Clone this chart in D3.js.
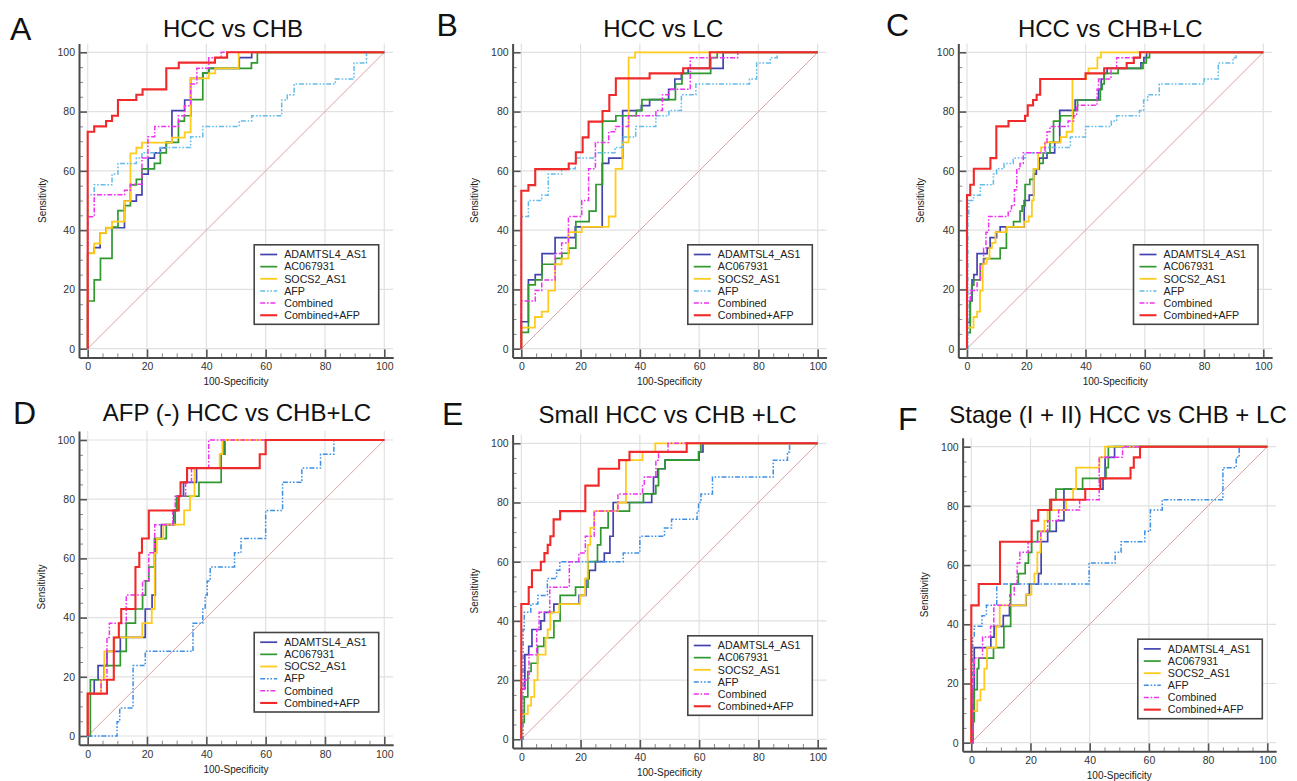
<!DOCTYPE html>
<html><head><meta charset="utf-8">
<script src="https://cdn.jsdelivr.net/npm/d3@7"></script>
<style>html,body{margin:0;padding:0;background:#fff;}svg{display:block;font-family:"Liberation Sans",Arial,sans-serif;}</style>
</head><body><svg id="chart" width="1297" height="781"></svg>
<script>
// ---------------- data ----------------
const seriesNames = ["ADAMTSL4_AS1","AC067931","SOCS2_AS1","AFP","Combined","Combined+AFP"];
const panelLetters = ["A","B","C","D","E","F"];
const panelTitles = ["HCC vs CHB","HCC vs LC","HCC vs CHB+LC","AFP (-) HCC vs CHB+LC","Small HCC vs CHB +LC","Stage (I + II) HCC vs CHB + LC"];
const axisTicks = [0,20,40,60,80,100];
const minorTicks = [5,10,15,25,30,35,45,50,55,65,70,75,85,90,95];
const xAxisTitle = "100-Specificity";
const yAxisTitle = "Sensitivity";

// each point: [100-Specificity, Sensitivity] where the ROC step rises to that sensitivity
const A_ADAMTSL4 = [[0,32.2],[2.2,34.1],[4.2,39.1],[6.2,40.8],[12.4,49.8],[16.4,51.9],[18.3,58.9],[20.4,64.3],[22.5,66.1],[24.5,67.8],[26.5,69.6],[28.4,80.3],[32.7,83.9],[34.7,91.2],[38.8,93],[40.8,94.6],[51.1,98.2],[55.3,100]];
const A_AC067931 = [[0,16.1],[2.2,23.2],[4.3,30.5],[8.2,41],[10.2,46.6],[12.4,48.3],[14.4,55.3],[16.4,57.1],[18.3,60.7],[22.5,62.5],[24.5,66.1],[26.5,69.6],[30.6,76.8],[32.6,78.6],[34.8,84],[38.8,93],[40.8,94.6],[55.2,96.4],[57.2,100]];
const A_SOCS2 = [[0,32.2],[2.2,35.5],[4.2,39.1],[6.2,40.8],[8.2,42.9],[12.4,49.8],[14.4,65.9],[16.4,67.8],[18.3,69.5],[28.4,71.2],[32.7,73],[34.7,91.2],[40.8,92.9],[43,94.6],[50.9,100]];
const A_AFP = [[0,51.9],[2.2,55.3],[8.2,58.9],[10.2,62.5],[16.4,64.3],[18.3,66.1],[24.5,67.9],[34.7,71.5],[38.8,75],[51.1,76.8],[55.3,78.6],[65.4,83.9],[67.3,85.7],[69.6,89.3],[83.5,91],[89.8,96.4],[94,100]];
const A_Combined = [[0,44.5],[2.2,51.9],[12.4,53.5],[14.4,55.5],[18.3,64.3],[20.3,71.5],[22.6,75],[30.6,78.6],[32.6,82],[34.7,89.3],[36.8,94.6],[40.8,98.2],[45,100]];
const A_CombinedAFP = [[0,73.2],[2.2,75],[6.2,76.8],[8.2,78.6],[10.2,83.9],[16.4,85.7],[18.5,87.5],[26.5,94.6],[30.7,96.5],[42.9,98.2],[47,100]];

const B_ADAMTSL4 = [[0,9.1],[2.4,23.2],[4.7,25],[7,32.1],[11.4,37.5],[18.2,41.1],[27.3,62.5],[29.5,64.3],[34.2,80.3],[40.5,82],[43.3,84],[49.7,87.5],[51.8,91],[54,92.9],[56.3,94.6],[68.1,100]];
const B_AC067931 = [[0,5.5],[2.4,21.5],[4.7,23.2],[7,28.5],[11.5,30.5],[13.7,32.2],[16,33.9],[18.4,42.9],[22.9,46.4],[25.2,55.4],[27.4,76.8],[31.9,78.6],[38.8,80.4],[40.7,84],[52,89.3],[54.2,92.9],[63.9,98.2],[66.1,100]];
const B_SOCS2 = [[0,7.1],[4.6,10.7],[6.9,12.5],[9.1,19.6],[11.4,28.5],[13.6,30.4],[15.9,39.3],[20.4,41.1],[29.5,44.6],[31.8,60.7],[34.1,69.6],[36.2,98.2],[38.4,100]];
const B_AFP = [[0,44.6],[2.4,50],[6.9,51.8],[9.1,58.9],[13.6,60.7],[18.2,64.3],[25,66.1],[31.6,67.9],[34.1,71.4],[38.6,75],[45.4,78.6],[49.8,80.4],[54,85.7],[58.9,89.3],[77,91],[79.4,96.4],[84,98.2],[86.3,100]];
const B_Combined = [[0,16.1],[4.7,19.6],[6.9,23.2],[11.4,32.1],[13.6,35.7],[15.9,44.6],[20.4,50],[22.7,60.7],[25,69.6],[29.5,73.2],[31.8,75],[36.2,78.6],[45.4,80.4],[47.6,85.7],[49.8,87.5],[57,98.2],[73,100]];
const B_CombinedAFP = [[0,53.3],[2.4,55.2],[4.7,60.6],[16,62.5],[18.4,66.3],[20.7,71.3],[22.7,76.6],[27.4,80.2],[29.7,85.6],[31.9,91.2],[43.3,92.9],[54.6,94.6],[63.6,100]];

const C_ADAMTSL4 = [[0,8.9],[1.1,16.1],[1.7,23.2],[2.3,25],[3.4,32.1],[6.8,33.9],[7.8,37.5],[10,39.3],[11.2,41.1],[19.3,50],[21,51.8],[22.5,58.9],[23.4,60.7],[24.4,64.3],[27,66.1],[29.6,69.6],[31.3,80.4],[36.5,83.9],[44.4,87.5],[45.3,91],[46.3,92.9],[47.3,94.6],[58.7,96.4],[59.7,98.2],[60.6,100]];
const C_AC067931 = [[0,5.4],[1.1,16.1],[1.6,21.4],[2.3,23.2],[4.5,28.6],[5.6,30.4],[11.2,33.9],[13.3,41.1],[15.7,42.9],[17.9,46.4],[18.6,48.2],[19.6,55.4],[21.2,57.1],[22.5,60.7],[24.2,62.5],[25.7,66.1],[28,69.6],[29.2,76.8],[31.5,78.6],[35.9,80.4],[37.3,83.9],[45,87.5],[45.6,89.3],[46.3,92.9],[51,94.6],[59.4,96.4],[60.5,98.2],[61.6,100]];
const C_SOCS2 = [[0,7.1],[2.2,10.7],[3.4,12.5],[4.4,19.6],[5.3,28.6],[6.6,30.4],[7.6,33.9],[8.4,35.7],[9.6,39.3],[13.5,41.1],[19.2,42.9],[20.8,44.6],[21.9,50],[22.5,60.7],[24,66.1],[25,67.9],[26.3,69.6],[31.6,71.4],[33.6,73.2],[35.6,91],[40.2,92.9],[41,94.6],[44,98.2],[45.2,100]];
const C_AFP = [[0.3,44.6],[0.6,50],[2.2,51.8],[4.5,55.3],[8.9,58.9],[10,60.7],[12.5,62.5],[15.6,64.3],[19.6,66.1],[26.6,67.9],[34.9,71.4],[40,75],[48.7,76.8],[50.5,78.6],[58.2,80.4],[59.6,83.9],[61,85.7],[64.9,89.3],[80,91],[84.8,96.4],[89.8,98.2],[90.8,100]];
const C_Combined = [[0,16.1],[1.1,19.6],[3.4,23.2],[4.5,28.6],[5.6,33.9],[6.4,39.3],[7.3,44.6],[13.9,46.4],[15,48.2],[16,53.6],[16.8,60.7],[17.9,62.5],[19,66.1],[26.3,69.6],[27,73.2],[28,75],[34.1,76.8],[36,78.6],[37,82.1],[43.9,87.5],[44.4,91],[48.6,94.6],[50.5,98.2],[58.5,100]];
const C_CombinedAFP = [[0,51.8],[1.1,55.3],[2.3,60.7],[7.9,64.3],[9.9,75],[14,76.8],[19.6,78.6],[20.5,82.1],[22.3,83.9],[23.5,85.7],[24.7,91],[40,92.9],[46.3,94.6],[53.9,96.4],[56.3,98.2],[58.4,100]];

const D_ADAMTSL4 = [[0,14.3],[2.2,19],[3.5,23.8],[6.5,28.6],[11,33.3],[19.4,42.9],[21.7,47.6],[22.8,66.7],[24.8,71.4],[29,76.2],[30,81],[32.3,85.7],[36.7,90.5],[45,95.2],[46,100]];
const D_AC067931 = [[0.9,19],[5.5,23.8],[11,28.6],[13,38.1],[16.1,42.9],[18.5,47.6],[19.5,52.4],[20.6,57.1],[22.5,66.7],[26.5,71.4],[29.5,76.2],[30,81],[37.5,85.7],[45,95.2],[46.3,100]];
const D_SOCS2 = [[0,14.3],[4.5,19],[5.6,28.6],[9,33.3],[18.4,38.1],[21.6,42.9],[22.6,61.9],[23.3,66.7],[25.5,71.4],[32.5,76.2],[34.5,81],[36,90.5],[44.5,95.2],[45.4,100]];
const D_AFP = [[9.9,4.8],[10.8,9.5],[15.3,23.8],[19.4,28.6],[35.5,38.1],[38.8,42.9],[39.6,47.6],[40.3,52.4],[41.3,57.1],[49.5,61.9],[51.7,66.7],[60,76.2],[65.7,85.7],[72.2,90.5],[78.5,95.2],[83,100]];
const D_Combined = [[0,14.3],[4.5,19],[6.5,33.3],[7.3,38.1],[13,47.6],[18.5,52.4],[20.6,61.9],[22.6,71.4],[28.7,76.2],[29.5,81],[33,85.7],[35,90.5],[40.8,100]];
const D_CombinedAFP = [[0,14.3],[6.5,19],[8.8,33.3],[10.5,38.1],[11.3,42.9],[16.1,57.1],[17.4,61.9],[18.3,66.7],[20.6,76.2],[30.7,81],[31.3,85.7],[33.5,90.5],[58,95.2],[60,100]];

const E_ADAMTSL4 = [[0,17],[1.2,28.6],[2.5,31.4],[3.6,37.1],[6.6,40],[7.8,42.9],[11,45.7],[19.5,48.6],[21.8,54.3],[22.9,57.1],[25,60],[28,62.9],[29.9,68.6],[31,80],[44,82.9],[44.6,88.6],[46,91.4],[48.5,94.3],[60,97.1],[61.3,100]];
const E_AC067931 = [[0,5.7],[1,14.3],[2.2,22.9],[3.3,25.7],[5.5,31.4],[7.6,34.3],[11,40],[13.1,48.6],[18.3,51.4],[22.5,60],[25.7,65.7],[26.8,71.4],[29.3,77.1],[36.5,80],[41.2,82.9],[45.4,85.7],[46.3,91.4],[48.5,94.3],[59.8,97.1],[60.6,100]];
const E_SOCS2 = [[0,8.6],[2.2,11.4],[3.3,14.3],[4.4,20],[5.5,28.6],[8.2,34.3],[8.9,37.1],[9.8,42.9],[12.8,45.7],[19.8,48.6],[21.5,54.3],[22.4,65.7],[23.3,71.4],[24.6,77.1],[32.5,80],[35.3,94.3],[40.9,97.1],[45.2,100]];
const E_AFP = [[0.6,37.1],[1,42.9],[3.2,45.7],[5.6,48.6],[8.8,54.3],[11.9,57.1],[13,60],[34.4,62.9],[40,68.6],[48.3,71.4],[50.7,74.3],[59.3,77.1],[59.8,80],[60.6,82.9],[64.5,88.6],[85,94.3],[89.8,97.1],[90.5,100]];
const E_Combined = [[0,17.1],[1,20],[2.6,28.6],[5.2,37.1],[6,42.9],[9.6,51.4],[16.2,60],[19.4,62.9],[21.6,68.6],[24.6,77.1],[32.6,82.9],[40.9,85.7],[41.5,88.6],[45.4,94.3],[46.3,97.1],[49.5,100]];
const E_CombinedAFP = [[0,45.7],[2.5,51.4],[3.6,57.1],[6.6,60],[7.8,62.9],[8.9,65.7],[9.8,68.6],[10.9,74.3],[13.1,77.1],[21.6,85.7],[26.1,91.4],[33,94.3],[36.5,97.1],[55.8,100]];

const F_ADAMTSL4 = [[0.6,17.9],[1,32.1],[6.6,35.7],[7.7,39.3],[10.8,42.9],[12.9,46.4],[18.5,50],[19.6,53.6],[22.7,57.1],[23.6,67.9],[25.8,71.4],[28.7,75],[31.3,85.7],[44.5,89.3],[45.2,96.4],[48.4,100]];
const F_AC067931 = [[0.5,7.1],[1,17.9],[2,25],[2.5,28.6],[7.5,32.1],[11,39.3],[13.3,53.6],[15.9,57.1],[18.2,60.7],[19.3,64.3],[20.4,67.9],[22.4,71.4],[26.5,82.1],[28.6,85.7],[37.6,89.3],[45.5,92.9],[46.3,100]];
const F_SOCS2 = [[0,10.7],[2,14.3],[3.1,17.9],[4.4,25],[5.3,32.1],[8.4,39.3],[9.6,46.4],[18.4,50],[20.3,53.6],[21.3,57.1],[22.3,64.3],[23.4,71.4],[24.7,75],[25.8,78.6],[32,82.1],[34.4,85.7],[35.4,92.9],[43.3,96.4],[45.2,100]];
const F_AFP = [[0.5,35.7],[1,39.3],[3.6,42.9],[5.1,46.4],[8.6,53.6],[39.8,60.7],[48.6,64.3],[50.6,67.9],[58.6,71.4],[60.5,78.6],[64.5,82.1],[85,92.9],[89.5,96.4],[90.5,100]];
const F_Combined = [[0.5,21.4],[1,28.6],[3.8,35.7],[6.5,39.3],[7.6,46.4],[13,50],[14.5,53.6],[15.5,60.7],[16.4,64.3],[19.2,67.9],[23.5,71.4],[25.8,75],[29.5,78.6],[36.6,82.1],[43.2,96.4],[51.1,100]];
const F_CombinedAFP = [[0,46.4],[2.5,53.6],[9.7,67.9],[20.4,75],[22.6,78.6],[27,82.1],[38.5,85.7],[43.6,89.3],[53.8,92.9],[54.9,96.4],[57,100]];

const panelSeries = [
  [A_ADAMTSL4, A_AC067931, A_SOCS2, A_AFP, A_Combined, A_CombinedAFP],
  [B_ADAMTSL4, B_AC067931, B_SOCS2, B_AFP, B_Combined, B_CombinedAFP],
  [C_ADAMTSL4, C_AC067931, C_SOCS2, C_AFP, C_Combined, C_CombinedAFP],
  [D_ADAMTSL4, D_AC067931, D_SOCS2, D_AFP, D_Combined, D_CombinedAFP],
  [E_ADAMTSL4, E_AC067931, E_SOCS2, E_AFP, E_Combined, E_CombinedAFP],
  [F_ADAMTSL4, F_AC067931, F_SOCS2, F_AFP, F_Combined, F_CombinedAFP]
];

// ---------------- styles / layout ----------------
const seriesStyle = [
  {color:"#4343b0", width:1.7, dash:null},
  {color:"#2f982f", width:1.7, dash:null},
  {color:"#ffcb1c", width:1.8, dash:null},
  {color:"#63bce9", width:1.5, dash:"5,1.8,1.6,1.8,1.6,1.8"},
  {color:"#f032f0", width:1.5, dash:"5,1.8,1.6,1.8"},
  {color:"#f02a2a", width:2.1, dash:null}
];
const afpColorByPanel = ["#63bce9","#63bce9","#63bce9","#3d90e6","#3d90e6","#3d90e6"];

const layout = [
  {x0:87.7, x1:384.3, yb:348.7, yt:52.3, letter:[10,40], title:[233,36.7], ylab:[42,200.5]},
  {x0:521.3, x1:817.7, yb:348.7, yt:52.3, letter:[436.5,36], title:[663.3,36.7], ylab:[474,200.5]},
  {x0:967, x1:1263.3, yb:348.7, yt:52.3, letter:[886,36], title:[1110.3,36.7], ylab:[920,200.5]},
  {x0:87.7, x1:384.3, yb:736, yt:440, letter:[13,424], title:[237,420.7], ylab:[41,587]},
  {x0:521.3, x1:817.7, yb:739.3, yt:443.3, letter:[442,425], title:[667.5,423.3], ylab:[474.5,591]},
  {x0:971.3, x1:1267.3, yb:742.7, yt:446.7, letter:[898,430], title:[1118,423.3], ylab:[924.7,594.7]}
];

const svg = d3.select("#chart");

layout.forEach((L, pi) => {
  const x = d3.scaleLinear().domain([0,100]).range([L.x0, L.x1]);
  const y = d3.scaleLinear().domain([0,100]).range([L.yb, L.yt]);
  const lo = -2.93, hi = 103;
  const xa = d3.scaleLinear().domain([lo,hi]).range([x(lo), x(hi)]);
  const ya = d3.scaleLinear().domain([lo,hi]).range([y(lo), y(hi)]);
  const g = svg.append("g");

  // grid
  g.append("g").selectAll("line.v").data(axisTicks).join("line")
    .attr("x1", d=>x(d)).attr("x2", d=>x(d)).attr("y1", ya(lo)).attr("y2", ya(hi))
    .attr("stroke","#e1e1e1").attr("stroke-width",1.2);
  g.append("g").selectAll("line.h").data(axisTicks).join("line")
    .attr("y1", d=>y(d)).attr("y2", d=>y(d)).attr("x1", xa(lo)).attr("x2", xa(hi))
    .attr("stroke","#e1e1e1").attr("stroke-width",1.2);

  // diagonal reference
  g.append("line").attr("x1",x(0)).attr("y1",y(0)).attr("x2",x(100)).attr("y2",y(100))
    .attr("stroke","#d9a2a2").attr("stroke-width",1);

  // minor ticks
  const xMinor = g.append("g").attr("transform",`translate(0,${ya(lo)})`)
    .call(d3.axisBottom(xa).tickValues(minorTicks).tickSizeInner(-4).tickSizeOuter(0).tickFormat(""));
  xMinor.select(".domain").remove();
  xMinor.selectAll("line").attr("stroke","#888").attr("stroke-width",1);
  const yMinor = g.append("g").attr("transform",`translate(${xa(lo)},0)`)
    .call(d3.axisLeft(ya).tickValues(minorTicks).tickSizeInner(-4).tickSizeOuter(0).tickFormat(""));
  yMinor.select(".domain").remove();
  yMinor.selectAll("line").attr("stroke","#888").attr("stroke-width",1);

  // major axes
  const xAx = g.append("g").attr("transform",`translate(0,${ya(lo)})`)
    .call(d3.axisBottom(xa).tickValues(axisTicks).tickSizeInner(-8).tickSizeOuter(0).tickPadding(5.5));
  const yAx = g.append("g").attr("transform",`translate(${xa(lo)},0)`)
    .call(d3.axisLeft(ya).tickValues(axisTicks).tickSizeInner(-8).tickSizeOuter(0).tickPadding(4));
  [xAx,yAx].forEach(ax => {
    ax.select(".domain").attr("stroke","#4a4a4a").attr("stroke-width",2);
    ax.selectAll(".tick line").attr("stroke","#555").attr("stroke-width",1.6);
    ax.selectAll(".tick text").attr("fill","#333").style("font-size","10.5px")
      .style("font-family",'"Liberation Sans",Arial,sans-serif');
  });

  // curves
  const line = d3.line().x(d=>x(d[0])).y(d=>y(d[1])).curve(d3.curveStepAfter);
  panelSeries[pi].forEach((pts, si) => {
    const st = seriesStyle[si];
    const data = [[0,0]].concat(pts);
    if (data[data.length-1][0] < 100) data.push([100,100]);
    g.append("path").datum(data).attr("d", line)
      .attr("fill","none")
      .attr("stroke", si===3 ? afpColorByPanel[pi] : st.color)
      .attr("stroke-width", st.width)
      .attr("stroke-dasharray", st.dash)
      .attr("stroke-linejoin","miter");
  });

  // legend
  const lx = L.x0 + 166.5, ly = L.yt + 192.5;
  const lg = g.append("g");
  lg.append("rect").attr("x",lx).attr("y",ly).attr("width",124.5).attr("height",79.5)
    .attr("fill","#fff").attr("stroke","#444").attr("stroke-width",1.6);
  seriesNames.forEach((name, si) => {
    const st = seriesStyle[si];
    const yy = ly + 9.7 + si*12.15;
    lg.append("line").attr("x1",lx+6).attr("x2",lx+23).attr("y1",yy).attr("y2",yy)
      .attr("stroke", si===3 ? afpColorByPanel[pi] : st.color)
      .attr("stroke-width", st.width).attr("stroke-dasharray", st.dash);
    lg.append("text").attr("x",lx+30).attr("y",yy).attr("dy","0.35em")
      .attr("fill","#222").style("font-size","10.7px").text(name);
  });

  // labels
  g.append("text").attr("x",L.title[0]).attr("y",L.title[1]).attr("text-anchor","middle")
    .attr("fill","#111").style("font-size","24px").text(panelTitles[pi]);
  g.append("text").attr("x",L.letter[0]).attr("y",L.letter[1])
    .attr("fill","#111").style("font-size","32px").text(panelLetters[pi]);
  g.append("text").attr("transform",`translate(${L.ylab[0]},${L.ylab[1]}) rotate(-90)`)
    .attr("text-anchor","middle").attr("dominant-baseline","central")
    .attr("fill","#222").style("font-size","10px").text(yAxisTitle);
  g.append("text").attr("x",(L.x0+L.x1)/2).attr("y",ya(lo)+24.5)
    .attr("text-anchor","middle").attr("dominant-baseline","central")
    .attr("fill","#222").style("font-size","10px").text(xAxisTitle);
});
</script></body></html>
